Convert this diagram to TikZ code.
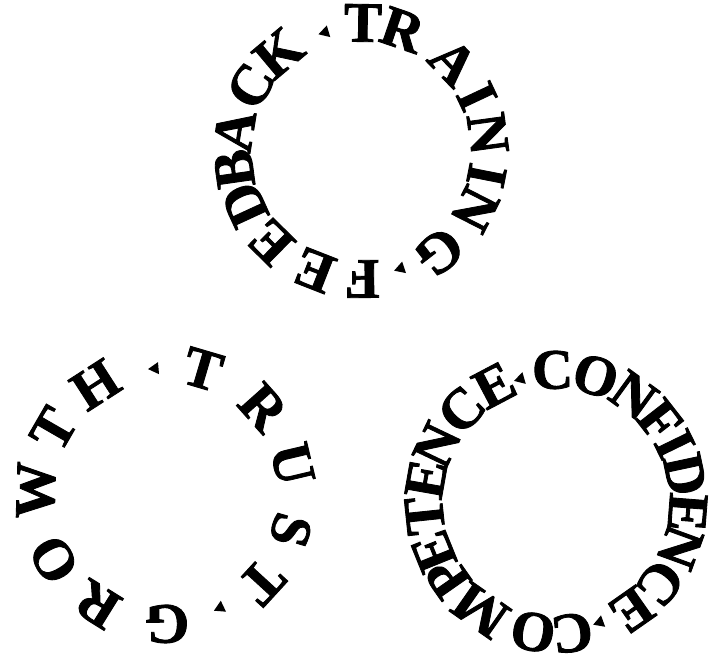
\documentclass[tikz,border=0pt]{standalone}
\usepackage{fontspec}
\setmainfont{Liberation Serif}
\newfontfamily\heavy[FakeBold=1.5]{Liberation Serif Bold}
\usetikzlibrary{shapes.geometric}
\begin{document}
\begin{tikzpicture}[x=1pt,y=1pt,
  lt/.style={font=\fontsize{57}{57}\heavy, inner sep=0pt, anchor=center},
  tri/.style={regular polygon, regular polygon sides=3, shape border rotate=#1-90,
              fill=black, minimum size=14pt, inner sep=0pt}]
\useasboundingbox (0,0) rectangle (712,655);
\coordinate (ctop) at (361,504);
\coordinate (cbl) at (166,161);
\coordinate (cbr) at (556,153);
% top circle: FEEDBACK . TRAINING .
\foreach \ch/\a [count=\i] in {T/89.1, R/71.1, A/44, I/25.2, N/7.8, I/-11.1, N/-27, G/-52.2,
  F/-89.5, E/-111.4, E/-134.7, D/-155.2, B/-171.9, A/170.9, C/149.4, K/130}
  \node[lt, rotate=\a-90] (t\i) at ([shift={(\a:128)}]ctop) {\ch};
\node[tri=196.8] (tt1) at ([shift={(106.8:124)}]ctop) {};
\node[tri=-161.3] (tt2) at ([shift={(-71.3:124)}]ctop) {};
% bottom left: GROWTH . TRUST .
\foreach \ch/\a [count=\i] in {G/-89.5, R/-121.9, O/-149.7, W/178.3, T/150, H/122.8,
  T/73.6, R/41.7, U/13.3, S/-16.2, T/-42.5}
  \node[lt, rotate=\a-90] (l\i) at ([shift={(\a:130)}]cbl) {\ch};
\node[tri=185] (lt1) at ([shift={(95:126)}]cbl) {};
\node[tri=-154.5] (lt2) at ([shift={(-64.5:126)}]cbl) {};
% bottom right: COMPETENCE . CONFIDENCE .
\foreach \ch/\a [count=\i] in {C/91.5, O/72.5, N/54, F/38, I/26, D/12, E/-4.5, N/-20, C/-38, E/-55,
  C/-83, O/-100, M/-125, P/-145, E/-158, T/-174, E/170, N/154.5, C/135.6, E/117.8}
  \node[lt, rotate=\a-90] (r\i) at ([shift={(\a:132)}]cbr) {\ch};
\node[tri=196] (rt1) at ([shift={(106:128)}]cbr) {};
\node[tri=-160] (rt2) at ([shift={(-70:128)}]cbr) {};
\end{tikzpicture}
\end{document}
